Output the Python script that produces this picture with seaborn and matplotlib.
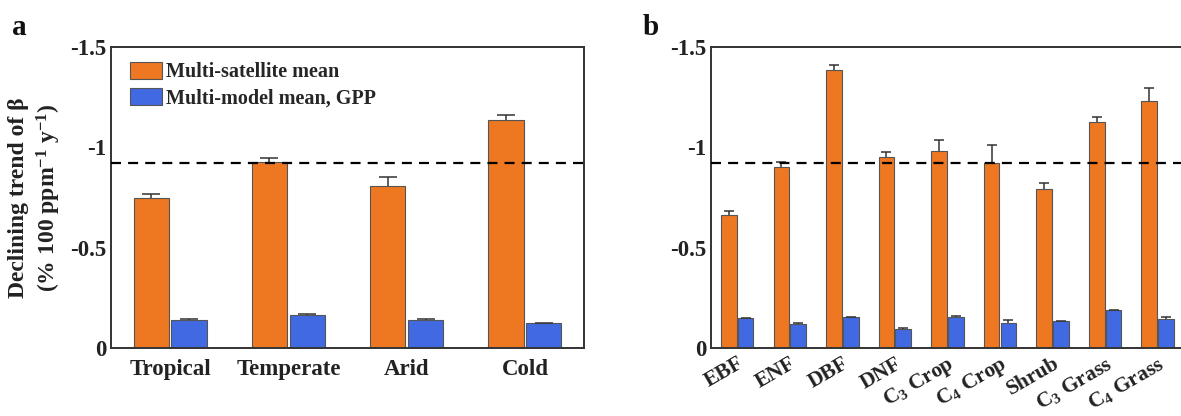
import numpy as np
import pandas as pd
import matplotlib
matplotlib.use("Agg")
import matplotlib.pyplot as plt
import seaborn as sns
from matplotlib.patches import Patch

# Climate zones (panel a)
climate_zones = ["Tropical", "Temperate", "Arid", "Cold"]
climate_sat = [-0.749, -0.928, -0.807, -1.137]
climate_sat_err = [0.017, 0.019, 0.044, 0.022]
climate_gpp = [-0.141, -0.166, -0.141, -0.123]
climate_gpp_err = [0.002, 0.002, 0.002, 0.002]

# Vegetation types (panel b)
veg_types = ["EBF", "ENF", "DBF", "DNF", "C$_{3}$ Crop", "C$_{4}$ Crop",
             "Shrub", "C$_{3}$ Grass", "C$_{4}$ Grass"]
veg_sat = [-0.664, -0.903, -1.385, -0.953, -0.983, -0.923, -0.791, -1.128, -1.232]
veg_sat_err = [0.019, 0.024, 0.027, 0.022, 0.053, 0.088, 0.033, 0.024, 0.062]
veg_gpp = [-0.149, -0.121, -0.153, -0.096, -0.156, -0.125, -0.134, -0.188, -0.144]
veg_gpp_err = [0.002, 0.002, 0.002, 0.002, 0.002, 0.013, 0.002, 0.002, 0.008]

# Global mean declining trend
global_mean = -0.92

series_names = ["Multi-satellite mean", "Multi-model mean, GPP"]
colors = ["#EE7722", "#4169E1"]

sns.set_style("white")
plt.rcParams["font.family"] = ["Liberation Serif", "DejaVu Serif"]
plt.rcParams["font.weight"] = "bold"
plt.rcParams["axes.unicode_minus"] = False
plt.rcParams["mathtext.fontset"] = "custom"
plt.rcParams["mathtext.rm"] = "Liberation Serif:bold"
plt.rcParams["mathtext.it"] = "Liberation Serif:bold:italic"
plt.rcParams["mathtext.bf"] = "Liberation Serif:bold"
plt.rcParams["mathtext.default"] = "rm"

fig = plt.figure(figsize=(11.81, 4.16), dpi=100)
ax_a = fig.add_axes([0.094, 0.1635, 0.4005, 0.7235])
ax_b = fig.add_axes([0.602, 0.1635, 0.4005, 0.7235])


def build_frame(cats, sat, gpp):
    return pd.DataFrame({
        "category": list(cats) * 2,
        "trend": list(sat) + list(gpp),
        "source": [series_names[0]] * len(cats) + [series_names[1]] * len(cats),
    })


def draw_panel(ax, cats, sat, sat_err, gpp, gpp_err, capsize):
    df = build_frame(cats, sat, gpp)
    sns.barplot(data=df, x="category", y="trend", hue="source",
                hue_order=series_names, order=cats, palette=colors,
                width=0.64, gap=0.07, errorbar=None, saturation=1,
                edgecolor="#555555", linewidth=0.8, ax=ax, legend=False)
    # one-sided error bars extending away from zero
    for container, vals, errs in zip(ax.containers, [sat, gpp], [sat_err, gpp_err]):
        xs = [b.get_x() + b.get_width() / 2 for b in container]
        vals = np.asarray(vals)
        errs = np.asarray(errs)
        _, caps, _ = ax.errorbar(xs, vals, yerr=[errs, np.zeros_like(errs)],
                                 fmt="none", ecolor="#333333", elinewidth=1.1,
                                 capsize=capsize, capthick=1.1, zorder=1)
        for c in caps:
            if np.allclose(c.get_ydata(), vals):
                c.set_visible(False)
    ax.axhline(global_mean, color="black", lw=1.6,
               linestyle=(0, (4.5, 3.2)), zorder=5)
    ax.set_xlim(-0.5, len(cats) - 0.5)
    ax.set_ylim(0, -1.5)
    ax.set_yticks([0, -0.5, -1, -1.5])
    ax.set_yticklabels(["0", "-0.5", "-1", "-1.5"])
    ax.set_xlabel("")
    ax.set_ylabel("")
    ax.tick_params(direction="in", length=4, width=1, labelsize=16.5,
                   colors="#222222", labelcolor="#222222")
    for s in ax.spines.values():
        s.set_visible(True)
        s.set_color("#333333")
        s.set_linewidth(1.4)


draw_panel(ax_a, climate_zones, climate_sat, climate_sat_err,
           climate_gpp, climate_gpp_err, capsize=6.8)
draw_panel(ax_b, veg_types, veg_sat, veg_sat_err,
           veg_gpp, veg_gpp_err, capsize=3.6)

ax_a.tick_params(axis="x", pad=8)
for lab in ax_a.get_xticklabels():
    lab.set_fontsize(16.5)

ax_b.set_xticks(range(len(veg_types)))
ax_b.set_xticklabels(veg_types, rotation=30, ha="right",
                     rotation_mode="anchor", fontsize=15.5)
ax_b.tick_params(axis="x", pad=4)

ax_a.set_ylabel("Declining trend of β\n(% 100 ppm$^{-1}$ y$^{-1}$)",
                fontsize=17, fontweight="bold", linespacing=1.3,
                color="#222222", labelpad=5)

handles = [Patch(facecolor=c, edgecolor="#555555", linewidth=0.8) for c in colors]
ax_a.legend(handles, series_names, loc="upper left",
            bbox_to_anchor=(0.04, 0.95), frameon=False, fontsize=14.5,
            handlelength=1.6, handleheight=0.9, handletextpad=0.2,
            labelspacing=0.3, borderaxespad=0, borderpad=0)

fig.text(0.010, 0.915, "a", fontsize=21, fontweight="bold", color="#111111")
fig.text(0.544, 0.915, "b", fontsize=21, fontweight="bold", color="#111111")

fig.savefig("out.png", dpi=100)
